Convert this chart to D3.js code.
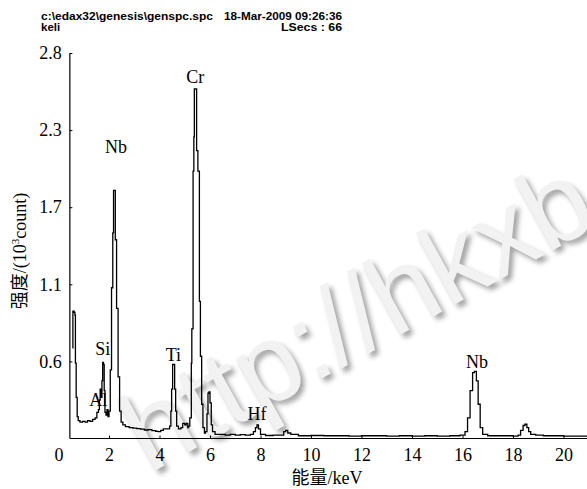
<!DOCTYPE html>
<html>
<head>
<meta charset="utf-8">
<script src="https://cdn.jsdelivr.net/npm/d3@7"></script>
<style>
  body { margin: 0; background: #fff; }
  svg { display: block; }
</style>
</head>
<body>
<div id="chart"></div>
<script>
// EDS spectrum (energy in keV, counts in 10^3)
const energia = [
  0.56, 0.57, 0.62, 0.65, 0.67, 0.70, 0.74, 0.78, 0.85, 0.95,
  1.05, 1.15, 1.25, 1.35, 1.45, 1.52, 1.58, 1.62, 1.65, 1.68,
  1.72, 1.75, 1.78, 1.81, 1.84, 1.88, 1.92, 1.96, 2.00, 2.05,
  2.10, 2.15, 2.18, 2.22, 2.25, 2.30, 2.36, 2.42, 2.48, 2.55,
  2.65, 2.80, 2.95, 3.10, 3.25, 3.40, 3.55, 3.70, 3.85, 3.95,
  4.05, 4.15, 4.30, 4.40, 4.45, 4.48, 4.52, 4.57, 4.60, 4.64,
  4.68, 4.75, 4.85, 4.92, 5.00, 5.06, 5.12, 5.15, 5.20, 5.26,
  5.28, 5.33, 5.36, 5.38, 5.43, 5.47, 5.52, 5.58, 5.62, 5.67,
  5.72, 5.78, 5.82, 5.88, 5.92, 5.96, 6.00, 6.05, 6.10, 6.20,
  6.40, 6.60, 6.80, 7.00, 7.20, 7.40, 7.60, 7.72, 7.80, 7.86,
  7.92, 8.00, 8.20, 8.50, 8.80, 8.92, 9.00, 9.08, 9.20, 9.50,
  10.0, 10.5, 11.0, 11.5, 12.0, 12.5, 13.0, 13.5, 14.0, 14.5,
  15.0, 15.5, 15.9, 16.1, 16.2, 16.3, 16.4, 16.47, 16.55, 16.62,
  16.7, 16.8, 17.0, 17.5, 18.0, 18.2, 18.3, 18.4, 18.47, 18.55,
  18.62, 18.7, 18.9, 19.2, 19.5, 20.0, 20.5, 21.0
];
const contagem = [
  0.66, 0.93, 0.92, 0.90, 0.55, 0.30, 0.16, 0.13, 0.12, 0.125,
  0.12, 0.13, 0.125, 0.14, 0.15, 0.19, 0.21, 0.28, 0.36, 0.30,
  0.42, 0.556, 0.54, 0.35, 0.19, 0.17, 0.21, 0.16, 0.20, 0.50,
  1.10, 1.50, 1.81, 1.81, 1.45, 0.95, 0.45, 0.20, 0.12, 0.10,
  0.086, 0.08, 0.075, 0.072, 0.068, 0.062, 0.065, 0.058, 0.052, 0.05,
  0.06, 0.07, 0.07, 0.09, 0.20, 0.36, 0.54, 0.54, 0.36, 0.20,
  0.09, 0.07, 0.08, 0.11, 0.10, 0.11, 0.08, 0.09, 0.15, 0.55,
  0.80, 1.95, 2.20, 2.55, 2.55, 2.10, 1.95, 1.00, 0.60, 0.25,
  0.08, 0.04, 0.05, 0.18, 0.33, 0.34, 0.26, 0.10, 0.05, 0.03,
  0.03, 0.025, 0.03, 0.025, 0.028, 0.025, 0.03, 0.05, 0.08, 0.10,
  0.07, 0.03, 0.022, 0.025, 0.025, 0.05, 0.06, 0.04, 0.03, 0.02,
  0.022, 0.02, 0.02, 0.018, 0.02, 0.02, 0.018, 0.02, 0.018, 0.02,
  0.018, 0.02, 0.025, 0.05, 0.15, 0.35, 0.48, 0.49, 0.42, 0.25,
  0.08, 0.03, 0.02, 0.02, 0.018, 0.025, 0.06, 0.095, 0.104, 0.08,
  0.05, 0.03, 0.025, 0.02, 0.02, 0.018, 0.018, 0.018
];

// element labels over the peaks
const elementos = ["Al", "Si", "Nb", "Ti", "Cr", "Hf", "Nb"];
const elemEnergia = [1.57, 1.75, 2.28, 4.55, 5.42, 7.86, 16.57];
const elemContagem = [0.24, 0.61, 2.08, 0.565, 2.59, 0.135, 0.515];

// axis ticks
const xTicks = [0, 2, 4, 6, 8, 10, 12, 14, 16, 18, 20];
const yTicks = [0.5625, 1.125, 1.6875, 2.25, 2.8125];
const yTickLabels = ["0.6", "1.1", "1.7", "2.3", "2.8"];

const cabecalho1 = "c:\\edax32\\genesis\\genspc.spc";
const cabecalho2 = "18-Mar-2009 09:26:36";
const cabecalho3 = "keli";
const cabecalho4 = "LSecs :  66";
const marcaDagua = "http://hkxb";

const largura = 587, altura = 489;
const serif = "'Liberation Serif', 'Times New Roman', 'Noto Sans CJK SC', serif";

const svg = d3.select("#chart").append("svg")
    .attr("width", largura)
    .attr("height", altura);

const x = d3.scaleLinear().domain([0, 20]).range([58.5, 563.5]);
const y = d3.scaleLinear().domain([0, 2.8125]).range([438.5, 53]);
const xInicio = 0.45, xFim = 21;

// watermark (gray shadow + light letters)
const defs = svg.append("defs");
defs.append("filter").attr("id", "borrao")
    .append("feGaussianBlur").attr("stdDeviation", 2.5);
const marca = svg.append("g")
    .attr("font-family", "'Liberation Sans', Arial, sans-serif")
    .attr("font-size", 112);
marca.append("text")
    .attr("transform", "translate(153,478) rotate(-29)")
    .attr("fill", "#5a5a5a")
    .attr("opacity", 0.55)
    .attr("filter", "url(#borrao)")
    .text(marcaDagua);
marca.append("text")
    .attr("transform", "translate(149,474) rotate(-29)")
    .attr("fill", "#f2f2f2")
    .text(marcaDagua);

// header
const cab = svg.append("g")
    .attr("font-family", "'Liberation Sans', Arial, sans-serif")
    .attr("font-weight", "bold")
    .attr("font-size", 11.5);
cab.append("text").attr("x", 41).attr("y", 19.5)
    .attr("textLength", 172).attr("lengthAdjust", "spacingAndGlyphs").text(cabecalho1);
cab.append("text").attr("x", 224).attr("y", 19.5)
    .attr("textLength", 118).attr("lengthAdjust", "spacingAndGlyphs").text(cabecalho2);
cab.append("text").attr("x", 41).attr("y", 30.5).text(cabecalho3);
cab.append("text").attr("x", 281).attr("y", 30.5)
    .attr("textLength", 61).attr("lengthAdjust", "spacingAndGlyphs").text(cabecalho4);

// x axis
const eixoX = svg.append("g")
    .attr("transform", `translate(0,${y(0)})`)
    .call(d3.axisBottom(x).tickValues(xTicks).tickSize(-3).tickPadding(10).tickFormat(d => d));
eixoX.select(".domain").remove();
eixoX.selectAll(".tick").filter(d => d === 0).select("line").remove();
eixoX.selectAll("text").attr("font-family", serif).attr("font-size", 18).attr("fill", "#000");
eixoX.selectAll("line").attr("stroke", "#000");
svg.append("line")
    .attr("x1", x(xInicio)).attr("x2", x(xFim))
    .attr("y1", y(0)).attr("y2", y(0))
    .attr("stroke", "#000").attr("stroke-width", 1.2);

// y axis
const eixoY = svg.append("g")
    .attr("transform", `translate(${x(xInicio)},0)`)
    .call(d3.axisLeft(y).tickValues(yTicks).tickSize(-2.5).tickPadding(8)
        .tickFormat((d, i) => yTickLabels[i]));
eixoY.select(".domain").remove();
eixoY.selectAll("text").attr("font-family", serif).attr("font-size", 18).attr("fill", "#000");
eixoY.selectAll("line").attr("stroke", "#000");
svg.append("line")
    .attr("x1", x(xInicio)).attr("x2", x(xInicio))
    .attr("y1", y(0)).attr("y2", y(2.8125))
    .attr("stroke", "#000").attr("stroke-width", 1.2);

// spectrum
const pontos = energia.map((e, i) => [e, contagem[i]]);
svg.append("path")
    .datum(pontos)
    .attr("fill", "none")
    .attr("stroke", "#000")
    .attr("stroke-width", 1.3)
    .attr("d", d3.line()
        .x(d => x(d[0]))
        .y(d => y(d[1]))
        .curve(d3.curveStepAfter));

// element labels
svg.append("g")
    .selectAll("text")
    .data(elementos)
    .join("text")
    .attr("x", (d, i) => x(elemEnergia[i]))
    .attr("y", (d, i) => y(elemContagem[i]))
    .attr("text-anchor", "middle")
    .attr("font-family", serif)
    .attr("font-size", 18)
    .text(d => d);

// axis titles
svg.append("text")
    .attr("x", 327).attr("y", 484)
    .attr("text-anchor", "middle")
    .attr("font-family", serif)
    .attr("font-size", 18)
    .text("能量/keV");

const tituloY = svg.append("text")
    .attr("transform", "translate(26,251) rotate(-90)")
    .attr("text-anchor", "middle")
    .attr("font-family", serif)
    .attr("font-size", 18);
tituloY.append("tspan").text("强度/(10");
tituloY.append("tspan").attr("font-size", 11).attr("dy", -7).text("3");
tituloY.append("tspan").attr("dy", 7).text("count)");
</script>
</body>
</html>
